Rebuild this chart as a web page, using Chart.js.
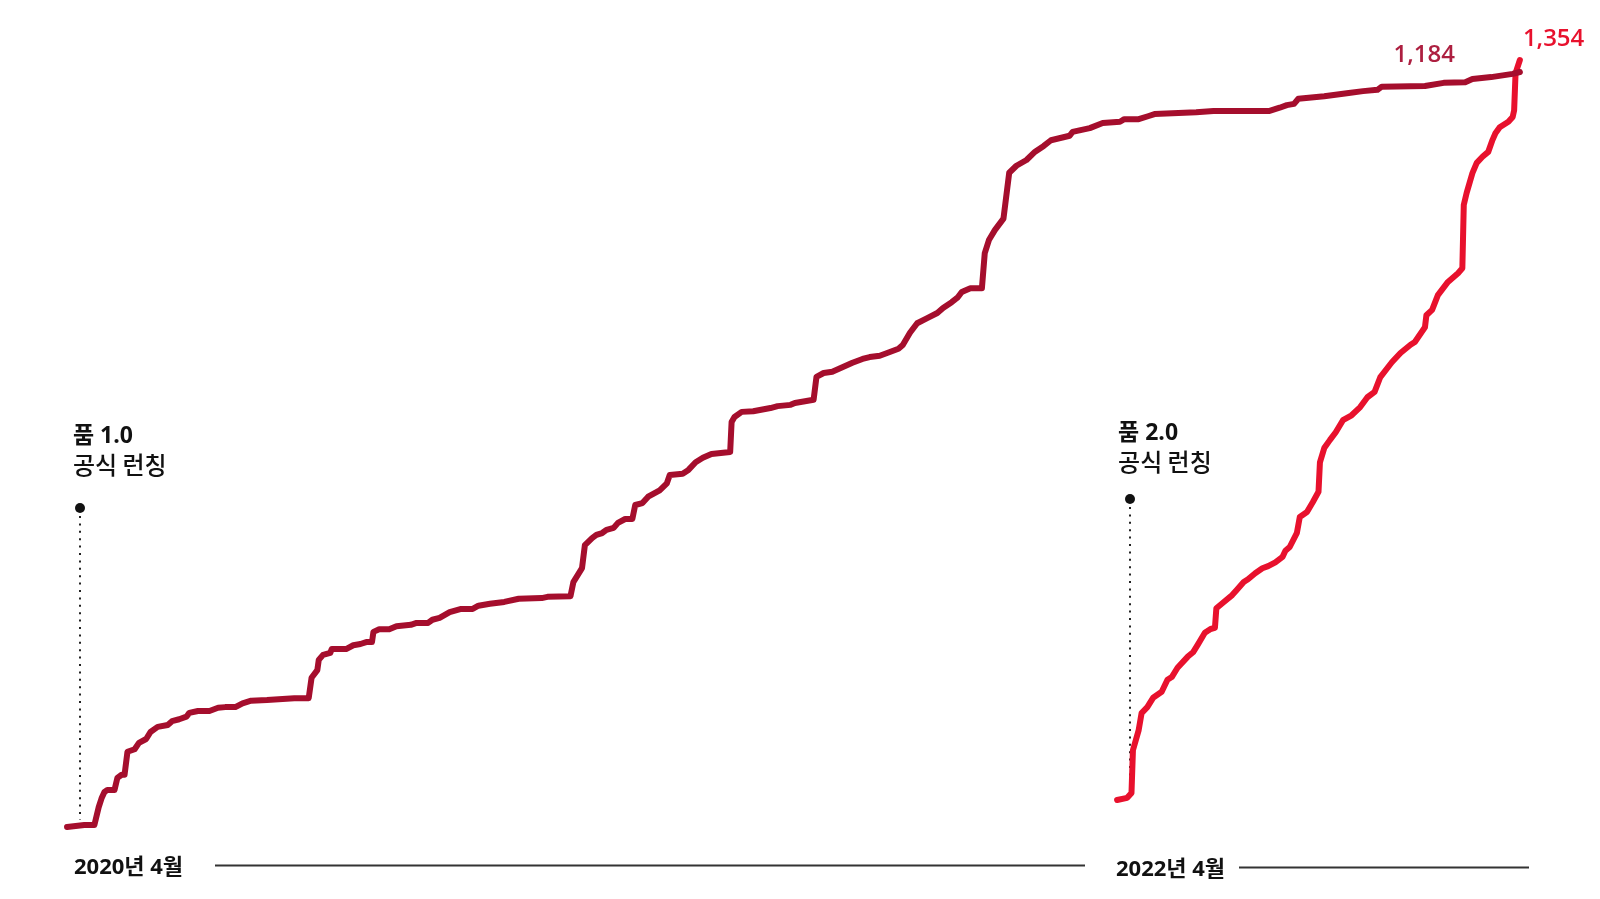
<!DOCTYPE html>
<html>
<head>
<meta charset="utf-8">
<title>품 1.0 / 품 2.0</title>
<style>
  body {margin: 0; background: #fff;}
  #wrap {width: 1600px; height: 899px; position: relative;}
</style>
</head>
<body>
<div id="wrap"><canvas id="myChart" width="1600" height="899"></canvas></div>
<script src="https://cdn.jsdelivr.net/npm/chart.js@4.4.0/dist/chart.umd.min.js"></script>
<script>
// days since 2020-04 launch, cumulative count
var days1 = [-9,3,10,13,15,17,19,24,26,29,31,33,38,41,46,49,54,61,64,69,74,76,82,90,96,101,108,113,119,130,149,159,161,165,166,169,174,175,185,190,195,199,203,204,208,215,220,230,234,242,245,250,257,265,273,277,285,295,305,321,325,341,343,346,349,351,356,359,363,366,371,374,379,384,386,391,395,403,408,410,419,423,428,433,439,452,453,455,460,468,480,485,494,497,505,510,512,517,523,530,537,544,549,556,563,569,572,577,582,589,596,600,606,610,613,619,627,629,632,636,642,646,651,658,664,670,675,688,690,702,711,723,726,736,743,747,776,788,827,834,839,844,847,865,882,892,902,905,935,948,963,968,981,996,1001];
var count1 = [0,3,3,31,45,55,58,58,77,82,82,118,122,132,138,149,157,160,166,169,173,179,182,182,187,188,188,194,198,199,202,202,234,246,262,270,273,279,279,285,287,290,290,306,310,310,315,317,320,320,325,328,337,342,342,347,350,353,358,359,361,362,384,395,406,442,453,458,461,466,469,477,483,483,505,508,518,528,539,552,554,560,572,579,585,588,635,643,651,652,657,660,662,665,668,670,706,712,714,721,728,734,737,739,745,750,756,775,790,798,806,814,823,830,839,845,845,900,921,936,954,1026,1037,1046,1059,1068,1077,1084,1090,1096,1104,1106,1110,1110,1115,1118,1121,1123,1123,1128,1132,1134,1142,1146,1151,1154,1156,1161,1162,1167,1168,1173,1176,1181,1184];

var days2 = [721,728,731,732,736,738,742,746,752,756,759,763,770,774,777,782,786,789,790,795,801,804,809,812,817,822,826,831,836,838,841,846,848,853,857,861,862,865,869,873,878,884,890,895,900,904,912,918,925,928,935,936,940,944,951,958,961,962,964,968,971,975,979,982,984,987,993,996,997,998,1001];
var count2 = [0,4,13,91,128,159,170,187,198,220,225,242,262,271,284,306,313,315,351,362,375,384,399,404,415,424,428,435,445,456,463,489,518,527,545,564,618,644,659,673,695,704,719,737,747,774,801,818,833,838,865,887,897,924,948,964,973,1089,1111,1147,1166,1177,1186,1208,1220,1231,1241,1250,1262,1330,1354];

var seriesNames = ['품 1.0', '품 2.0'];
var launchDays = [0, 730];
var dateLabels = ['2020년 4월', '2022년 4월'];
var totals = ['1,184', '1,354'];

var darkRed = '#a50e2d';
var brightRed = '#e8112d';
var FONT = '"Noto Sans CJK KR", "Noto Sans", sans-serif';
var NUMFONT = '"Open Sans", "Noto Sans CJK KR", sans-serif';

function toPoints(xs, ys) {
  var out = [];
  for (var i = 0; i < xs.length; i++) out.push({x: xs[i], y: ys[i]});
  return out;
}

var decor = {
  id: 'decor',
  beforeDatasetsDraw: function(chart) {
    var ctx = chart.ctx;
    var x = chart.scales.x;
    var dotTop = [508, 499];
    var lineEnd = [820, 789];
    ctx.save();
    for (var i = 0; i < launchDays.length; i++) {
      var px = Math.round(x.getPixelForValue(launchDays[i]));
      ctx.fillStyle = '#111';
      ctx.beginPath();
      ctx.arc(px, dotTop[i], 5, 0, Math.PI * 2);
      ctx.fill();
      ctx.strokeStyle = '#222';
      ctx.lineWidth = 2;
      ctx.setLineDash([2, 5.4]);
      ctx.beginPath();
      ctx.moveTo(px, dotTop[i] + 8);
      ctx.lineTo(px, lineEnd[i]);
      ctx.stroke();
    }
    ctx.restore();
  },
  afterDraw: function(chart) {
    var ctx = chart.ctx;
    var x = chart.scales.x;
    var labelTop = [443, 440];
    ctx.save();
    ctx.textBaseline = 'alphabetic';
    ctx.textAlign = 'left';
    for (var i = 0; i < launchDays.length; i++) {
      var px = x.getPixelForValue(launchDays[i]);
      var lx = px - (i == 0 ? 7 : 12);
      ctx.fillStyle = '#111';
      ctx.font = 'bold 23px ' + NUMFONT;
      ctx.fillText(seriesNames[i], lx, labelTop[i]);
      ctx.font = '500 24px ' + FONT;
      ctx.fillText('공식 런칭', lx, labelTop[i] + 31);
    }

    // timeline
    ctx.font = 'bold 22px ' + NUMFONT;
    ctx.fillStyle = '#111';
    ctx.fillText(dateLabels[0], 74, 874);
    ctx.fillText(dateLabels[1], 1116, 876);
    ctx.strokeStyle = '#333';
    ctx.lineWidth = 2;
    ctx.beginPath();
    ctx.moveTo(215, 865.5);
    ctx.lineTo(1085, 865.5);
    ctx.moveTo(1239, 867.5);
    ctx.lineTo(1529, 867.5);
    ctx.stroke();

    // end values
    var m1 = chart.getDatasetMeta(0).data;
    var m2 = chart.getDatasetMeta(1).data;
    var e1 = m1[m1.length - 1], e2 = m2[m2.length - 1];
    ctx.font = '600 24px ' + NUMFONT;
    ctx.fillStyle = '#ad1f40';
    ctx.textAlign = 'right';
    ctx.fillText(totals[0], e1.x - 65, e1.y - 10);
    ctx.fillStyle = brightRed;
    ctx.textAlign = 'left';
    ctx.fillText(totals[1], e2.x + 3, e2.y - 14);
    ctx.restore();
  }
};

var ctx = document.getElementById('myChart').getContext('2d');
var chart = new Chart(ctx, {
  type: 'line',
  data: {
    datasets: [{
      label: seriesNames[0],
      data: toPoints(days1, count1),
      borderColor: darkRed,
      borderWidth: 6,
      pointRadius: 0,
      borderJoinStyle: 'round',
      borderCapStyle: 'round',
      yAxisID: 'y'
    }, {
      label: seriesNames[1],
      data: toPoints(days2, count2),
      borderColor: brightRed,
      borderWidth: 6,
      pointRadius: 0,
      borderJoinStyle: 'round',
      borderCapStyle: 'round',
      yAxisID: 'y2'
    }]
  },
  options: {
    responsive: false,
    animation: false,
    layout: {padding: 0},
    plugins: {legend: {display: false}, tooltip: {enabled: false}},
    scales: {
      x: {type: 'linear', display: false, min: -55.6, max: 1056.7},
      y: {display: false, min: -112.9, max: 1296.9},
      y2: {display: false, min: -181.1, max: 1463.9}
    }
  },
  plugins: [decor]
});
</script>
</body>
</html>
